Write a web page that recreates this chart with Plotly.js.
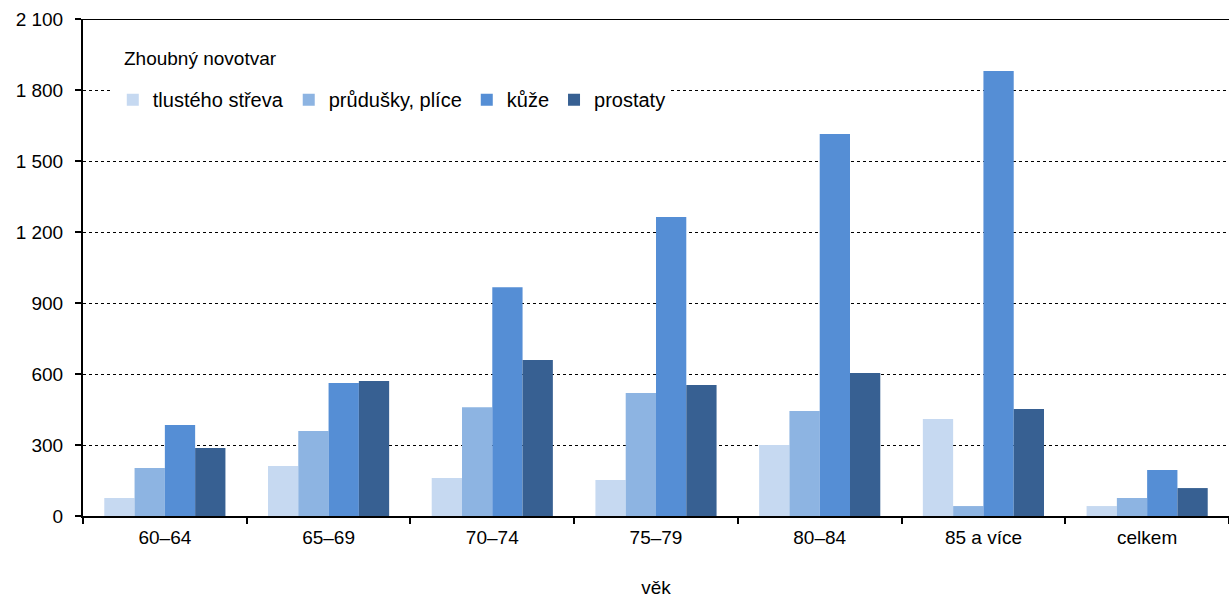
<!DOCTYPE html>
<html><head><meta charset="utf-8">
<script src="https://cdn.plot.ly/plotly-3.0.1.min.js"></script>
<style>body{margin:0;background:#fff}#c{width:1229px;height:599px}</style>
</head><body><div id="c"></div>
<script>
const categories = ["60–64","65–69","70–74","75–79","80–84","85 a více","celkem"];
const seriesNames = ["tlustého střeva","průdušky, plíce","kůže","prostaty"];
const legendTitle = "Zhoubný novotvar";
const tlusteho = [76, 211, 161, 152, 300, 410, 42];
const prudusky = [203, 359, 460, 520, 444, 42, 76];
const kuze = [384, 562, 967, 1263, 1614, 1880, 194];
const prostaty = [287, 570, 659, 553, 604, 452, 118];
const yTicks = [0,300,600,900,1200,1500,1800,2100];
const colors = ["#c6d9f1","#8db4e2","#558ed5","#376092"];
const vals = [tlusteho, prudusky, kuze, prostaty];
const traces = vals.map((v,i)=>({type:'bar', x:categories, y:v, name:seriesNames[i], marker:{color:colors[i]}}));
const layout = {
  width:1229, height:599,
  margin:{l:83,r:0,t:19,b:83},
  separators:', ',
  font:{family:'"Liberation Sans", Arial, sans-serif', size:19, color:'#000'},
  barmode:'group', bargap:0.26, bargroupgap:0,
  plot_bgcolor:'#fff', paper_bgcolor:'#fff',
  showlegend:true,
  legend:{orientation:'h', x:0.026, y:0.877, xanchor:'left', yanchor:'top',
    bgcolor:'#fff', font:{size:20},
    traceorder:'normal', itemwidth:30, tracegroupgap:0},
  annotations:[{text:legendTitle, xref:'paper', yref:'paper', x:0.034, y:0.9215, xanchor:'left', yanchor:'middle',
    showarrow:false, font:{size:19}, bgcolor:'#fff'}],
  xaxis:{type:'category', showline:true, linecolor:'#000', linewidth:2, ticks:'outside', tickson:'boundaries',
    ticklen:6, tickcolor:'#000', tickwidth:2, showgrid:false, ticklabelstandoff:3,
    title:{text:'věk', standoff:34, font:{size:19}}, tickfont:{size:19}},
  yaxis:{range:[0,2100], tickvals:yTicks, tickformat:',d', showline:true, linecolor:'#000', linewidth:2,
    ticks:'outside', ticklen:6, tickcolor:'#000', tickwidth:2, ticklabelstandoff:8,
    showgrid:true, gridcolor:'#000', griddash:'dot', gridwidth:1, zeroline:false, tickfont:{size:19}},
  shapes:[{type:'line', xref:'paper', yref:'y', x0:0, x1:1, y0:2100, y1:2100, line:{color:'#000', width:2}}]
};
Plotly.newPlot('c', traces, layout, {displayModeBar:false, staticPlot:true});
</script></body></html>
